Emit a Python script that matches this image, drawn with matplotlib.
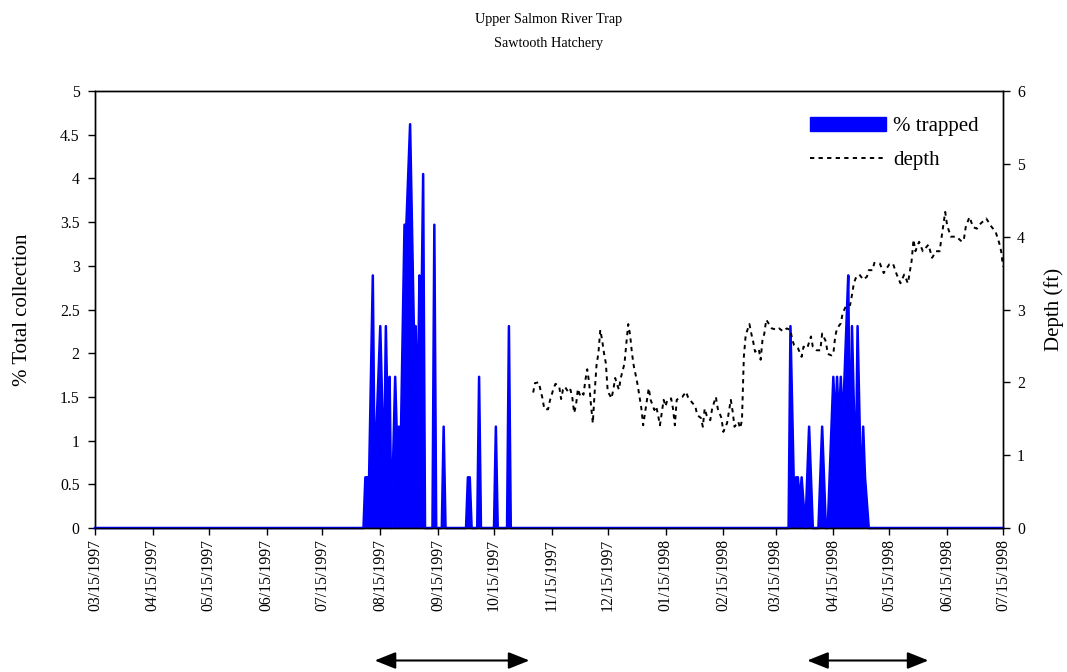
import numpy as np
import pandas as pd
import matplotlib
matplotlib.use("Agg")
import matplotlib.pyplot as plt
import matplotlib.dates as mdates
from matplotlib import transforms
from matplotlib.patches import Patch
from matplotlib.lines import Line2D

plt.rcParams['font.family'] = ['Liberation Serif', 'DejaVu Serif']

# ---------------- data ----------------
start_date = "1997-03-15"
end_date = "1998-07-15"

# % of total collection trapped (day offset from start_date, value)
trap_day = [0, 144, 145, 147, 149, 150, 153, 155, 156, 157, 158, 159, 161, 162, 163, 164,
            166, 167, 169, 171, 172, 173, 174, 175, 176, 177, 181, 182, 183, 186, 187, 188,
            199, 200, 201, 202, 205, 206, 207, 214, 215, 216, 221, 222, 223,
            372, 373, 375, 376, 377, 378, 379, 381, 383, 385, 388, 390, 392,
            393, 394, 396, 397, 398, 399, 400, 401, 402, 403, 404, 405, 406, 408, 409,
            411, 412, 413, 415, 487]
trap_pct = [0, 0, 0.58, 0.58, 2.89, 0.58, 2.31, 0.58, 2.31, 1.16, 1.73, 0, 1.73, 0.97, 1.16, 0.97,
            3.47, 3.47, 4.62, 2.31, 2.31, 1.16, 2.89, 2.31, 4.05, 0, 0, 3.47, 0, 0, 1.16, 0,
            0, 0.58, 0.58, 0, 0, 1.73, 0, 0, 1.16, 0, 0, 2.31, 0,
            0, 2.31, 0.3, 0.58, 0.58, 0.3, 0.58, 0, 1.16, 0, 0, 1.16, 0,
            0, 0.58, 1.73, 1.16, 1.73, 1.16, 1.73, 1.16, 1.73, 2.31, 2.89, 0.5, 2.31, 0.5, 2.31,
            0.3, 1.16, 0.58, 0, 0]

# river depth in ft (day offset from start_date, value)
depth_day = [235, 236, 238, 240, 241, 243, 244, 246, 247, 249, 250, 251, 252, 254, 255, 256,
             257, 258, 259, 260, 261, 262, 263, 264, 265, 266, 267, 268, 269, 270, 271, 272,
             273, 274, 275, 276, 277, 278, 279, 280, 281, 282, 283, 284, 285, 286, 287, 288,
             289, 290, 291, 292, 293, 294, 295, 296, 297, 298, 300, 301, 302, 303, 305, 306,
             307, 309, 310, 311, 312, 313, 315, 317, 318, 319, 320, 322, 323, 325, 326, 327,
             328, 330, 331, 333, 334, 336, 337, 339, 341, 342, 343, 345, 346, 347, 348, 349,
             351, 352, 353, 354, 356, 357, 358, 359, 360, 361, 363, 366, 367, 369, 371, 373,
             374, 375, 377, 379, 380, 382, 384, 385, 387, 389, 390, 392, 393, 395, 396, 397,
             398, 400, 401, 403, 405, 406, 407, 408, 410, 412, 414, 415, 417, 418, 421, 423,
             426, 428, 430, 432, 434, 436, 438, 439, 440, 442, 444, 447, 448, 449, 451, 453,
             454, 456, 457, 459, 462, 465, 466, 467, 469, 471, 473, 475, 478, 481, 483, 485,
             486, 487]
depth_ft = [1.86, 1.99, 2.00, 1.78, 1.63, 1.63, 1.75, 1.92, 1.98, 1.94, 1.77, 1.90, 1.94, 1.86, 1.90, 1.79,
            1.58, 1.69, 1.91, 1.83, 1.87, 1.83, 2.03, 2.18, 2.00, 1.69, 1.44, 1.87, 2.24, 2.40, 2.72, 2.58,
            2.40, 2.26, 1.87, 1.83, 1.78, 1.90, 2.06, 1.97, 1.90, 2.06, 2.16, 2.26, 2.54, 2.80, 2.65, 2.40,
            2.22, 2.10, 1.97, 1.81, 1.65, 1.41, 1.58, 1.76, 1.92, 1.76, 1.62, 1.67, 1.55, 1.41, 1.76, 1.67,
            1.76, 1.78, 1.64, 1.41, 1.76, 1.78, 1.80, 1.87, 1.80, 1.76, 1.73, 1.67, 1.55, 1.51, 1.39, 1.64,
            1.55, 1.48, 1.64, 1.80, 1.64, 1.51, 1.32, 1.44, 1.76, 1.60, 1.39, 1.46, 1.37, 1.48, 2.35, 2.65,
            2.80, 2.67, 2.56, 2.42, 2.46, 2.31, 2.58, 2.67, 2.86, 2.82, 2.74, 2.72, 2.74, 2.70, 2.74, 2.72,
            2.58, 2.51, 2.47, 2.35, 2.49, 2.47, 2.63, 2.49, 2.44, 2.44, 2.67, 2.56, 2.39, 2.37, 2.39, 2.63,
            2.74, 2.81, 2.95, 3.06, 3.06, 3.20, 3.36, 3.43, 3.48, 3.41, 3.45, 3.54, 3.54, 3.64, 3.63, 3.50,
            3.62, 3.63, 3.48, 3.36, 3.48, 3.36, 3.67, 3.96, 3.80, 3.93, 3.80, 3.89, 3.80, 3.71, 3.80, 3.80,
            3.98, 4.34, 4.16, 4.00, 4.00, 3.93, 3.96, 4.13, 4.27, 4.13, 4.11, 4.18, 4.25, 4.13, 4.07, 3.91,
            3.80, 3.59]

# double-headed arrows below the axis (start, end)
arrow_start = ["1997-08-12", "1998-04-01"]
arrow_end = ["1997-11-03", "1998-06-05"]

title_lines = ["Upper Salmon River Trap", "Sawtooth Hatchery"]

# ---------------- plot ----------------
t0 = pd.Timestamp(start_date)
trap_x = [t0 + pd.Timedelta(days=d) for d in trap_day]
depth_x = [t0 + pd.Timedelta(days=d) for d in depth_day]

fig = plt.figure(figsize=(10.67, 6.72), dpi=100)
ax = fig.add_axes([95 / 1067, 1 - 528 / 672, 908 / 1067, 437 / 672])
ax2 = ax.twinx()

ax.fill_between(trap_x, trap_pct, 0, color='#0000FF', linewidth=0, zorder=2)
ax.plot(trap_x, trap_pct, color='#0000FF', linewidth=1.8, zorder=3, clip_on=False)

ax2.plot(depth_x, depth_ft, color='black', linewidth=1.4, linestyle=(0, (2.2, 2.2)))

ax.set_xlim(t0, pd.Timestamp(end_date))
ax.set_ylim(0, 5)
ax2.set_ylim(0, 6)
ax.set_yticks(np.arange(0, 5.01, 0.5))
ax.yaxis.set_major_formatter(matplotlib.ticker.FormatStrFormatter('%g'))
ax2.set_yticks(np.arange(0, 6.01, 1))

tick_dates = pd.date_range(start_date, end_date, freq=pd.DateOffset(months=1))
ax.set_xticks(tick_dates)
ax.xaxis.set_major_formatter(mdates.DateFormatter('%m/%d/%Y'))
for lab in ax.get_xticklabels():
    lab.set_rotation(90)

for a in (ax, ax2):
    a.tick_params(direction='out', length=5, width=1, labelsize=11.3, colors='black')
    for s in a.spines.values():
        s.set_color('black')
        s.set_linewidth(1.0)
ax.tick_params(axis='x', pad=3)
ax.tick_params(axis='y', pad=6)
ax2.tick_params(axis='y', pad=5)

ax.set_ylabel('% Total collection', fontsize=15)
ax.yaxis.set_label_coords(-0.069, 0.5)
ax2.set_ylabel('Depth (ft)', fontsize=15)
ax2.yaxis.set_label_coords(1.045, 0.5)

# title
fig.text(549 / 1067, 1 - 19 / 672, title_lines[0], ha='center', va='center', fontsize=10.3)
fig.text(549 / 1067, 1 - 43 / 672, title_lines[1], ha='center', va='center', fontsize=10.3)

# legend
handles = [Patch(facecolor='#0000FF', edgecolor='#0000FF'),
           Line2D([], [], color='black', linewidth=1.4, linestyle=(0, (2.2, 2.2)))]
fig.legend(handles, ['% trapped', 'depth'], loc='upper left',
           bbox_to_anchor=(810 / 1067, 1 - 117 / 672), frameon=False,
           fontsize=15, handlelength=3.65, handleheight=0.67, handletextpad=0.34,
           labelspacing=0.7, borderpad=0, borderaxespad=0)

# arrows
trans = transforms.blended_transform_factory(ax.transData, fig.transFigure)
for s, e in zip(arrow_start, arrow_end):
    xs = mdates.date2num(pd.Timestamp(s))
    xe = mdates.date2num(pd.Timestamp(e))
    ax.annotate('', xy=(xe, 1 - 660.5 / 672), xytext=(xs, 1 - 660.5 / 672),
                xycoords=trans, textcoords=trans, annotation_clip=False,
                arrowprops=dict(arrowstyle='<|-|>,head_length=0.4,head_width=0.16',
                                mutation_scale=32, color='black', lw=1.5,
                                shrinkA=0, shrinkB=0))

fig.savefig('out.png', dpi=100)
